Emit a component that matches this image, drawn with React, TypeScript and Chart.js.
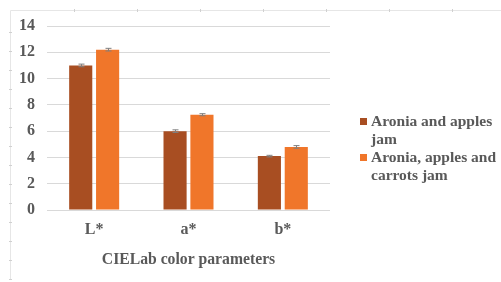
import React, { useEffect, useRef } from "react";
import { Chart, registerables } from "chart.js";

Chart.register(...registerables);

const categories = ["L*", "a*", "b*"];
const seriesNames = ["Aronia and apples jam", "Aronia, apples and carrots jam"];
const series1 = [11.0, 6.0, 4.1];
const series2 = [12.2, 7.25, 4.8];
const errors1 = [0.1, 0.1, 0.06];
const errors2 = [0.1, 0.08, 0.1];
const yTicks = [0, 2, 4, 6, 8, 10, 12, 14];
const xTitle = "CIELab color parameters";

const colors = ["#A84E22", "#F0762A"];
const FONT = "'Liberation Serif', 'Times New Roman', serif";

const frame = {
  id: "frame",
  beforeDraw(chart: any) {
    const ctx = chart.ctx;
    ctx.save();
    ctx.strokeStyle = "#e6e6e6";
    ctx.lineWidth = 1;
    ctx.beginPath();
    ctx.moveTo(10.5, 10.5);
    ctx.lineTo(501, 10.5);
    ctx.moveTo(10.5, 10.5);
    ctx.lineTo(10.5, 280);
    ctx.stroke();
    ctx.strokeStyle = "#d0d0d0";
    ctx.beginPath();
    for (let x = 74; x < 501; x += 63) {
      ctx.moveTo(x + 0.5, 9);
      ctx.lineTo(x + 0.5, 12);
    }
    for (let y = 32; y < 282; y += 19) {
      ctx.moveTo(9, y + 0.5);
      ctx.lineTo(12, y + 0.5);
    }
    ctx.stroke();
    ctx.restore();
  },
};

const errorBars = {
  id: "errorBars",
  afterDatasetsDraw(chart: any) {
    const ctx = chart.ctx;
    const y = chart.scales.y;
    const errs = [errors1, errors2];
    ctx.save();
    ctx.strokeStyle = "#7f7f7f";
    ctx.lineWidth = 1;
    chart.data.datasets.forEach((ds: any, di: number) => {
      const meta = chart.getDatasetMeta(di);
      meta.data.forEach((bar: any, i: number) => {
        const v = ds.data[i];
        const e = errs[di][i];
        const x = Math.round(bar.x) + 0.5;
        const top = y.getPixelForValue(v + e);
        const bot = y.getPixelForValue(v - e);
        ctx.beginPath();
        ctx.moveTo(x, top);
        ctx.lineTo(x, bot);
        ctx.moveTo(x - 3, top);
        ctx.lineTo(x + 3, top);
        ctx.moveTo(x - 3, bot);
        ctx.lineTo(x + 3, bot);
        ctx.stroke();
      });
    });
    ctx.restore();
  },
};

export default function App() {
  const ref = useRef<HTMLCanvasElement>(null);
  useEffect(() => {
    const chart = new Chart(ref.current!, {
      type: "bar",
      data: {
        labels: categories,
        datasets: [
          { label: seriesNames[0], data: series1, backgroundColor: colors[0], barPercentage: 0.86, categoryPercentage: 0.57 },
          { label: seriesNames[1], data: series2, backgroundColor: colors[1], barPercentage: 0.86, categoryPercentage: 0.57 },
        ],
      },
      options: {
        animation: false,
        responsive: false,
        layout: { padding: { top: 26, right: 171, left: 0, bottom: 0 } },
        plugins: { legend: { display: false }, tooltip: { enabled: false } },
        scales: {
          x: {
            grid: { display: false, drawTicks: false },
            border: { display: false },
            ticks: { color: "#595959", font: { family: FONT, size: 16, weight: "bold" }, padding: 10 },
            title: {
              display: true,
              text: xTitle,
              color: "#595959",
              font: { family: FONT, size: 15.7, weight: "bold" },
              padding: { top: 0, bottom: 13 },
            },
            afterFit: (s: any) => {
              s.height = 72;
            },
          },
          y: {
            min: 0,
            max: 14,
            afterBuildTicks: (s: any) => {
              s.ticks = yTicks.map((v) => ({ value: v }));
            },
            grid: { color: "#d9d9d9", drawTicks: false },
            border: { display: false },
            ticks: { color: "#595959", font: { family: FONT, size: 16, weight: "bold" }, padding: 12 },
            afterFit: (s: any) => {
              s.width = 47;
            },
          },
        },
      },
      plugins: [frame, errorBars],
    });
    return () => chart.destroy();
  }, []);

  return (
    <div style={{ position: "fixed", left: 0, top: 0, width: 501, height: 282, background: "#fff" }}>
      <canvas ref={ref} width={501} height={282} style={{ position: "absolute", left: 0, top: 0 }} />
      <div
        style={{
          position: "absolute",
          left: 360,
          top: 112,
          width: 141,
          fontFamily: FONT,
          fontWeight: "bold",
          fontSize: 15.5,
          lineHeight: "18px",
          color: "#595959",
        }}
      >
        {seriesNames.map((n, i) => (
          <div key={n} style={{ display: "flex", marginBottom: 0 }}>
            <span
              style={{
                display: "inline-block",
                width: 7,
                height: 7,
                background: colors[i],
                marginTop: 6,
                marginRight: 4,
                flex: "0 0 auto",
              }}
            />
            <span>{n}</span>
          </div>
        ))}
      </div>
    </div>
  );
}
